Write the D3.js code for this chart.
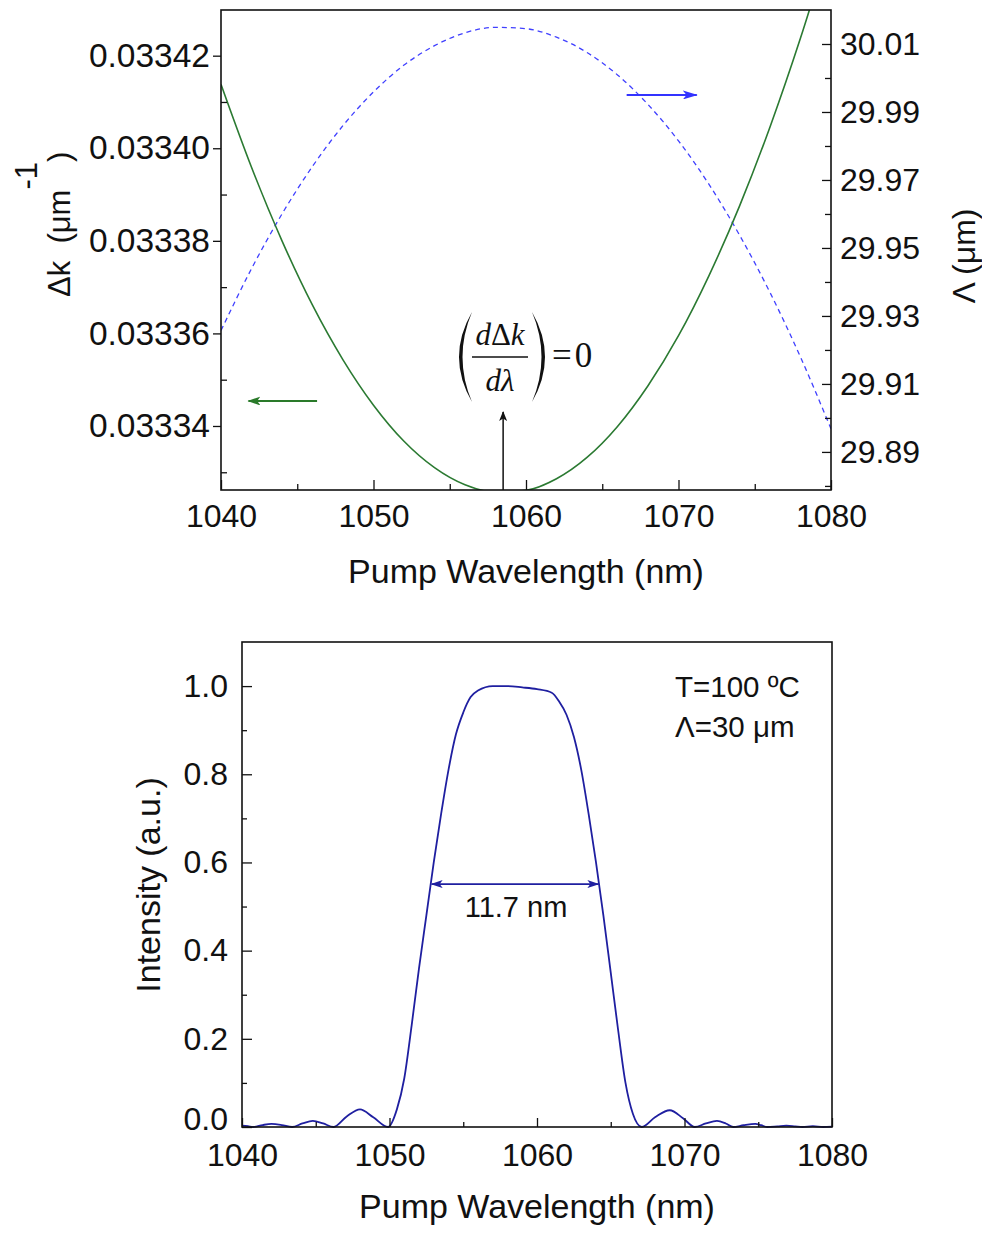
<!DOCTYPE html>
<html>
<head>
<meta charset="utf-8">
<script src="https://cdn.jsdelivr.net/npm/d3@7"></script>
<style>
  body { margin: 0; background: #fff; }
  text { font-family: "Liberation Sans", Arial, sans-serif; fill: #111; }
  .serif { font-family: "Liberation Serif", "Times New Roman", serif; }
</style>
</head>
<body>
<div id="chart"></div>
<script>
// Top panel: phase mismatch and grating period vs pump wavelength
const topWavelength = [1040, 1042, 1044, 1046, 1048, 1050, 1052, 1054, 1056, 1058,
  1060, 1062, 1064, 1066, 1068, 1070, 1072, 1074, 1076, 1078, 1080];
const deltaK = [0.0334138, 0.0333959, 0.0333800, 0.0333661, 0.0333543, 0.0333445, 0.0333367,
  0.0333310, 0.0333273, 0.0333257, 0.0333261, 0.0333286, 0.0333332, 0.0333399, 0.0333487,
  0.0333595, 0.0333725, 0.0333875, 0.0334046, 0.0334238, 0.0334451];
const gratingPeriod = [29.9257, 29.9439, 29.9600, 29.9740, 29.9860, 29.9959, 30.0038, 30.0095,
  30.0133, 30.0149, 30.0145, 30.0120, 30.0075, 30.0009, 29.9922, 29.9815, 29.9687, 29.9538,
  29.9369, 29.9179, 29.8968];

// Bottom panel: normalised SHG intensity vs pump wavelength
const bottomWavelength = [1040.0, 1040.4, 1040.75, 1041.4, 1042.0, 1042.7, 1043.4, 1044.1, 1044.8,
  1045.5, 1046.2, 1047.1, 1048.0, 1048.9, 1049.9, 1050.5, 1051.0, 1051.5, 1052.0, 1052.5, 1053.0,
  1053.5, 1054.0, 1054.5, 1055.0, 1055.5, 1056.0, 1057.0, 1058.0, 1059.0, 1060.0, 1061.0, 1061.5,
  1062.0, 1062.5, 1063.0, 1063.5, 1064.0, 1064.5, 1065.0, 1065.5, 1066.0, 1066.5, 1067.1, 1068.0,
  1069.0, 1069.9, 1070.7, 1071.45, 1072.2, 1072.8, 1073.3, 1074.0, 1074.8, 1075.2, 1075.6, 1076.3,
  1076.9, 1077.5, 1078.0, 1078.7, 1079.4, 1080.0];
const intensity = [0.003, 0.002, 0, 0.0045, 0.007, 0.0045, 0, 0.008, 0.014,
  0.008, 0, 0.024, 0.04, 0.022, 0, 0.04, 0.11, 0.23, 0.36, 0.48, 0.60,
  0.71, 0.81, 0.89, 0.94, 0.975, 0.99, 1.0, 1.0, 0.997, 0.993, 0.985, 0.965,
  0.935, 0.885, 0.81, 0.71, 0.60, 0.48, 0.35, 0.22, 0.10, 0.03, 0, 0.022,
  0.038, 0.02, 0, 0.008, 0.014, 0.008, 0, 0.004, 0.007, 0.004, 0, 0.0015,
  0.003, 0.0015, 0, 0.002, 0, 0.001];

// Tick values
const xTicks = [1040, 1050, 1060, 1070, 1080];
const xMinorTicks = [1045, 1055, 1065, 1075];
const deltaKTicks = [0.03334, 0.03336, 0.03338, 0.03340, 0.03342];
const deltaKMinorTicks = [0.03333, 0.03335, 0.03337, 0.03339, 0.03341];
const periodTicks = [29.89, 29.91, 29.93, 29.95, 29.97, 29.99, 30.01];
const periodMinorTicks = [29.88, 29.90, 29.92, 29.94, 29.96, 29.98, 30.00];
const intensityTicks = [0, 0.2, 0.4, 0.6, 0.8, 1.0];
const intensityMinorTicks = [0.1, 0.3, 0.5, 0.7, 0.9];

const width = 982;
const height = 1234;

const svg = d3.select('#chart')
  .append('svg')
  .attr('width', width)
  .attr('height', height);

// Arrow heads
const defs = svg.append('defs');
function addMarker(id, color, len, half) {
  defs.append('marker')
    .attr('id', id)
    .attr('markerUnits', 'userSpaceOnUse')
    .attr('viewBox', `0 0 ${len} ${half * 2}`)
    .attr('markerWidth', len)
    .attr('markerHeight', half * 2)
    .attr('refX', len - 1)
    .attr('refY', half)
    .attr('orient', 'auto-start-reverse')
    .append('path')
    .attr('d', `M0,0 L${len},${half} L0,${half * 2} L${len * 0.25},${half} Z`)
    .attr('fill', color);
}
addMarker('arrBlack', '#111', 10, 4);
addMarker('arrBlue', '#3333ff', 15, 4.5);
addMarker('arrGreen', '#2a7a2a', 13, 4.5);
addMarker('arrNavy', '#1f1fa0', 12, 4);

function styleAxis(g, size) {
  g.attr('font-size', size)
    .attr('font-family', '"Liberation Sans", Arial, sans-serif');
  g.select('.domain').remove();
  g.selectAll('.tick line').attr('stroke', '#111').attr('stroke-width', 1.3);
  g.selectAll('.tick text').attr('fill', '#111');
}

// ---------------- Top panel ----------------
const topBox = { left: 221, right: 831, top: 10, bottom: 490 };

const x1 = d3.scaleLinear().domain([1040, 1080]).range([topBox.left, topBox.right]);
const yK = d3.scaleLinear().domain([0.03332617, 0.03342987]).range([topBox.bottom, topBox.top]);
const yP = d3.scaleLinear().domain([29.8788, 30.02]).range([topBox.bottom, topBox.top]);

defs.append('clipPath').attr('id', 'clipTop')
  .append('rect')
  .attr('x', topBox.left).attr('y', topBox.top)
  .attr('width', topBox.right - topBox.left).attr('height', topBox.bottom - topBox.top);

const topData = topWavelength.map((w, i) => ({ w: w, k: deltaK[i], p: gratingPeriod[i] }));

svg.append('path')
  .datum(topData)
  .attr('clip-path', 'url(#clipTop)')
  .attr('fill', 'none')
  .attr('stroke', '#4040ff')
  .attr('stroke-width', 1.3)
  .attr('stroke-dasharray', '5,4')
  .attr('d', d3.line().x(d => x1(d.w)).y(d => yP(d.p)).curve(d3.curveMonotoneX));

svg.append('path')
  .datum(topData)
  .attr('clip-path', 'url(#clipTop)')
  .attr('fill', 'none')
  .attr('stroke', '#2b7a32')
  .attr('stroke-width', 1.6)
  .attr('d', d3.line().x(d => x1(d.w)).y(d => yK(d.k)).curve(d3.curveMonotoneX));

// axes
svg.append('g')
  .attr('transform', `translate(0,${topBox.bottom})`)
  .call(d3.axisBottom(x1).tickValues(xTicks).tickSize(-10).tickPadding(14).tickFormat(d3.format('d')))
  .call(g => styleAxis(g, 32));
svg.append('g')
  .attr('transform', `translate(0,${topBox.bottom})`)
  .call(d3.axisBottom(x1).tickValues(xMinorTicks).tickSize(-6).tickFormat(() => ''))
  .call(g => styleAxis(g, 32));

svg.append('g')
  .attr('transform', `translate(${topBox.left},0)`)
  .call(d3.axisLeft(yK).tickValues(deltaKTicks).tickSize(8).tickPadding(3).tickFormat(d3.format('.5f')))
  .call(g => styleAxis(g, 33.5));
svg.append('g')
  .attr('transform', `translate(${topBox.left},0)`)
  .call(d3.axisLeft(yK).tickValues(deltaKMinorTicks).tickSize(-6).tickFormat(() => ''))
  .call(g => styleAxis(g, 32));

svg.append('g')
  .attr('transform', `translate(${topBox.right},0)`)
  .call(d3.axisRight(yP).tickValues(periodTicks).tickSize(-9).tickPadding(9).tickFormat(d3.format('.2f')))
  .call(g => styleAxis(g, 32));
svg.append('g')
  .attr('transform', `translate(${topBox.right},0)`)
  .call(d3.axisRight(yP).tickValues(periodMinorTicks).tickSize(-6).tickFormat(() => ''))
  .call(g => styleAxis(g, 32));

svg.append('rect')
  .attr('x', topBox.left).attr('y', topBox.top)
  .attr('width', topBox.right - topBox.left).attr('height', topBox.bottom - topBox.top)
  .attr('fill', 'none').attr('stroke', '#111').attr('stroke-width', 1.6);

// axis titles
svg.append('text')
  .attr('x', (topBox.left + topBox.right) / 2)
  .attr('y', 583)
  .attr('text-anchor', 'middle')
  .attr('font-size', 34)
  .text('Pump Wavelength (nm)');

const kLabel = svg.append('text')
  .attr('transform', 'translate(70,297) rotate(-90)')
  .attr('font-size', 31)
  .attr('xml:space', 'preserve');
kLabel.append('tspan').text('Δk  (μm');
kLabel.append('tspan').attr('dy', -33).text('-1');
kLabel.append('tspan').attr('dy', 33).text(')');

svg.append('text')
  .attr('transform', 'translate(975,256) rotate(-90)')
  .attr('text-anchor', 'middle')
  .attr('font-size', 32)
  .text('Λ (μm)');

// series arrows
svg.append('line')
  .attr('x1', x1(1066.6)).attr('x2', x1(1071.2))
  .attr('y1', yP(29.995)).attr('y2', yP(29.995))
  .attr('stroke', '#3333ff').attr('stroke-width', 2.2)
  .attr('marker-end', 'url(#arrBlue)');
svg.append('line')
  .attr('x1', x1(1046.3)).attr('x2', x1(1041.8))
  .attr('y1', yK(0.0333454)).attr('y2', yK(0.0333454))
  .attr('stroke', '#2a7a2a').attr('stroke-width', 2.2)
  .attr('marker-end', 'url(#arrGreen)');

// d(Δk)/dλ = 0 annotation
const xm = x1(1058.5);
svg.append('line')
  .attr('x1', xm).attr('x2', xm)
  .attr('y1', topBox.bottom).attr('y2', 412)
  .attr('stroke', '#111').attr('stroke-width', 1.5)
  .attr('marker-end', 'url(#arrBlack)');

const num = svg.append('text')
  .attr('class', 'serif')
  .attr('x', 500).attr('y', 345)
  .attr('text-anchor', 'middle')
  .attr('font-size', 31);
num.append('tspan').attr('font-style', 'italic').text('d');
num.append('tspan').text('Δ');
num.append('tspan').attr('font-style', 'italic').text('k');

svg.append('text')
  .attr('class', 'serif')
  .attr('x', 500).attr('y', 391)
  .attr('text-anchor', 'middle')
  .attr('font-size', 31)
  .attr('font-style', 'italic')
  .text('dλ');

svg.append('line')
  .attr('x1', 472).attr('x2', 528)
  .attr('y1', 357).attr('y2', 357)
  .attr('stroke', '#111').attr('stroke-width', 1.5);

svg.append('path')
  .attr('d', 'M472,312 Q446,357 472,402 Q453,357 472,312 Z')
  .attr('fill', '#111');
svg.append('path')
  .attr('d', 'M532,312 Q558,357 532,402 Q551,357 532,312 Z')
  .attr('fill', '#111');

const eq = svg.append('text')
  .attr('class', 'serif')
  .attr('x', 552).attr('y', 367)
  .attr('font-size', 35);
eq.append('tspan').text('=');
eq.append('tspan').attr('dx', 3).text('0');

// ---------------- Bottom panel ----------------
const botBox = { left: 242, right: 832, top: 642, bottom: 1127 };

const x2 = d3.scaleLinear().domain([1040, 1080]).range([botBox.left, botBox.right]);
const y2 = d3.scaleLinear().domain([0, 1.1]).range([botBox.bottom, botBox.top]);

const bottomData = bottomWavelength.map((w, i) => ({ w: w, v: intensity[i] }));

svg.append('path')
  .datum(bottomData)
  .attr('fill', 'none')
  .attr('stroke', '#1f1fa0')
  .attr('stroke-width', 1.8)
  .attr('d', d3.line().x(d => x2(d.w)).y(d => y2(d.v)).curve(d3.curveMonotoneX));

svg.append('g')
  .attr('transform', `translate(0,${botBox.bottom})`)
  .call(d3.axisBottom(x2).tickValues(xTicks).tickSize(-9).tickPadding(16).tickFormat(d3.format('d')))
  .call(g => styleAxis(g, 32));
svg.append('g')
  .attr('transform', `translate(0,${botBox.bottom})`)
  .call(d3.axisBottom(x2).tickValues(xMinorTicks).tickSize(-5).tickFormat(() => ''))
  .call(g => styleAxis(g, 32));

svg.append('g')
  .attr('transform', `translate(${botBox.left},0)`)
  .call(d3.axisLeft(y2).tickValues(intensityTicks).tickSize(-10).tickPadding(14).tickFormat(d3.format('.1f')))
  .call(g => styleAxis(g, 32))
  // the 0.0 label sits a little higher than its tick, as in the figure
  .call(g => g.selectAll('.tick text').filter(d => d === 0).attr('y', -8));
svg.append('g')
  .attr('transform', `translate(${botBox.left},0)`)
  .call(d3.axisLeft(y2).tickValues(intensityMinorTicks).tickSize(-5).tickFormat(() => ''))
  .call(g => styleAxis(g, 32));

svg.append('rect')
  .attr('x', botBox.left).attr('y', botBox.top)
  .attr('width', botBox.right - botBox.left).attr('height', botBox.bottom - botBox.top)
  .attr('fill', 'none').attr('stroke', '#111').attr('stroke-width', 1.6);

svg.append('text')
  .attr('x', (botBox.left + botBox.right) / 2)
  .attr('y', 1218)
  .attr('text-anchor', 'middle')
  .attr('font-size', 34)
  .text('Pump Wavelength (nm)');

svg.append('text')
  .attr('transform', 'translate(160,885) rotate(-90)')
  .attr('text-anchor', 'middle')
  .attr('font-size', 34)
  .text('Intensity (a.u.)');

// FWHM marker
svg.append('line')
  .attr('x1', x2(1052.86)).attr('x2', x2(1064.16))
  .attr('y1', y2(0.551)).attr('y2', y2(0.551))
  .attr('stroke', '#1f1fa0').attr('stroke-width', 1.8)
  .attr('marker-start', 'url(#arrNavy)')
  .attr('marker-end', 'url(#arrNavy)');

svg.append('text')
  .attr('x', 516).attr('y', 917)
  .attr('text-anchor', 'middle')
  .attr('font-size', 29)
  .text('11.7 nm');

svg.append('text')
  .attr('x', 675).attr('y', 697)
  .attr('font-size', 29.5)
  .text('T=100 ºC');
svg.append('text')
  .attr('x', 675).attr('y', 737)
  .attr('font-size', 29.5)
  .text('Λ=30 μm');
</script>
</body>
</html>
